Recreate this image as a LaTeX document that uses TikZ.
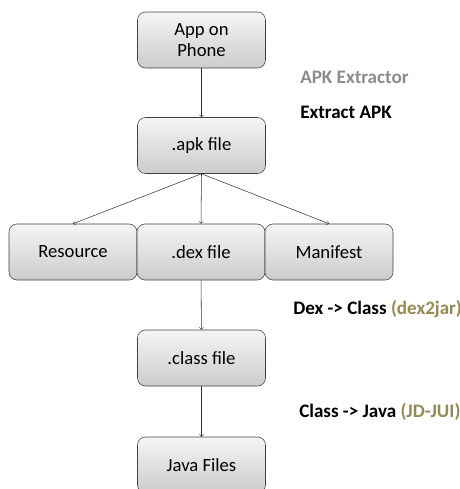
\documentclass[tikz,border=0pt]{standalone}
\usepackage{fontspec}
\setmainfont{Carlito}
\usepackage{tikz}
\usetikzlibrary{calc,arrows}
\definecolor{olivetxt}{HTML}{948A54}
\definecolor{greytxt}{HTML}{8C8C8C}

\begin{document}
\begin{tikzpicture}[x=0.75pt,y=-0.75pt,>=to,
    fbox/.style={draw=black!75,rounded corners=6pt,top color=black!4,bottom color=black!20,
                 minimum width=96pt,minimum height=42pt,inner sep=0pt,align=center,
                 font=\fontsize{14}{16}\selectfont},
    steplbl/.style={anchor=west,inner sep=0pt,font=\fontsize{14.3}{16}\selectfont\bfseries}]
                 \useasboundingbox (0,0) rectangle (460,489);
                 \node[fbox](app)at(201.5,40){App on\\Phone};
                 \node[fbox](apk)at(201.5,145.5){.apk file};
                 \node[fbox](res)at(73,252){Resource};
                 \node[fbox](dex)at(201,252){.dex file};
                 \node[fbox](man)at(329,252){Manifest};
                 \node[fbox](cls)at(201.5,358){.class file};
                 \node[fbox](jav)at(201.5,465){Java Files};
                 \draw[->,black!80](app)--(apk);
                 \draw[->,black!80](apk.south)--(res.north);
                 \draw[->,black!80](apk.south)--(dex.north);
                 \draw[->,black!80](apk.south)--(man.north);
                 \draw[->,black!80](dex)--(cls);
                 \draw[->,black!80](cls)--(jav);
                 \node[steplbl,text=greytxt](t1)at(300,77){APK Extractor};
                 \node[steplbl](t2)at(300,112){Extract APK};
                 \node[steplbl](t3)at(293,309){Dex -> Class \textcolor{olivetxt}{(dex2jar)}};
                 \node[steplbl](t4)at(299,412){Class -> Java \textcolor{olivetxt}{(JD-JUI)}};
               \end{tikzpicture}
\end{document}
